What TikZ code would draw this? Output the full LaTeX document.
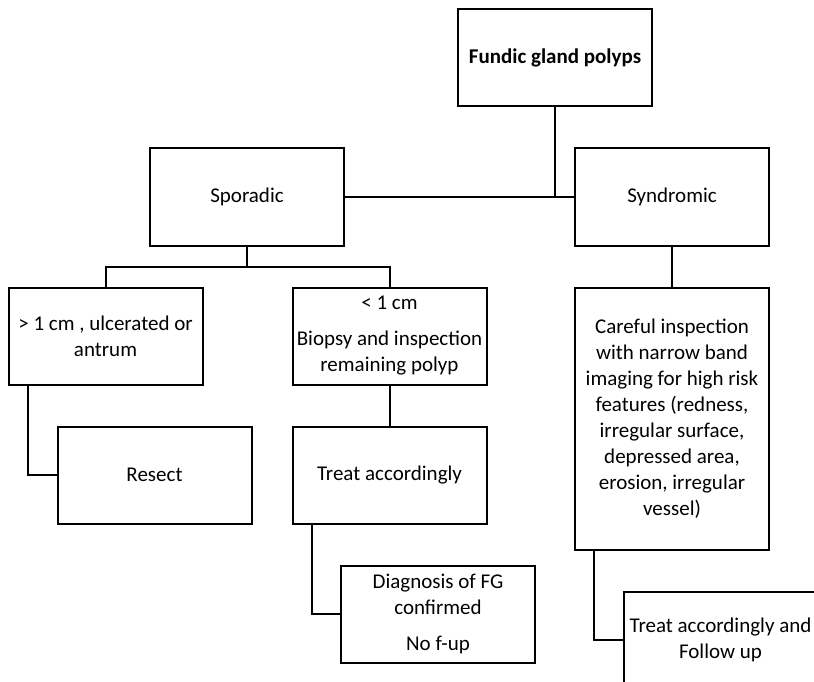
\documentclass[tikz,border=0pt]{standalone}
\usepackage{fontspec}
\setmainfont{Carlito}
\usetikzlibrary{positioning, calc}
\tikzset{block/.style={rectangle,draw,line width=2pt,minimum width=194pt,minimum height=97pt,inner sep=0pt,align=center,font=\fontsize{21}{26}\selectfont},
         tallblock/.style={block,minimum height=262pt},
         link/.style={line width=2pt}}
\begin{document}
\begin{tikzpicture}
    \useasboundingbox (0,0) rectangle (814pt,-682pt);
    \clip (0,0) rectangle (814pt,-682pt);
    \node (fgp) [block] at (555pt,-58pt) {\bfseries Fundic gland polyps};
    \node (spor) [block, below left=40pt and 112pt of fgp] {Sporadic};
    \node (synd) [block, right=229pt of spor] {Syndromic};
    \node (big) [block, below=40pt of spor, xshift=-141.5pt] {> 1 cm , ulcerated or\\antrum};
    \node (small) [block, right=88pt of big] {< 1 cm\\[10pt]Biopsy and inspection\\remaining polyp};
    \node (careful) [tallblock, below=40pt of synd] {Careful inspection\\with narrow band\\imaging for high risk\\features (redness,\\irregular surface,\\depressed area,\\erosion, irregular\\vessel)};
    \node (resect) [block, below=40pt of big, xshift=49pt] {Resect};
    \node (treat) [block, below=40pt of small] {Treat accordingly};
    \node (diag) [block, below=40pt of treat, xshift=48.5pt] {Diagnosis of FG\\confirmed\\[10pt]No f-up};
    \node (follow) [block, below=40pt of careful, xshift=48.5pt] {Treat accordingly and\\Follow up};
    % Top split
    \draw[link] (spor.east) -- (synd.west);
    \draw[link] (fgp.south) -- (fgp.south |- spor.east);
    % Sporadic branches
    \coordinate (sporbus) at ($(spor.south)+(0,-20pt)$);
    \draw[link] (spor.south) -- (sporbus);
    \draw[link] (big.north) |- (sporbus) -| (small.north);
    \draw[link] (synd.south) -- (careful.north);
    % Elbow links to the lower boxes
    \draw[link] ([xshift=20pt]big.south west) |- (resect.west);
    \draw[link] (small.south) -- (treat.north);
    \draw[link] ([xshift=20pt]treat.south west) |- (diag.west);
    \draw[link] ([xshift=20pt]careful.south west) |- (follow.west);
\end{tikzpicture}
\end{document}
